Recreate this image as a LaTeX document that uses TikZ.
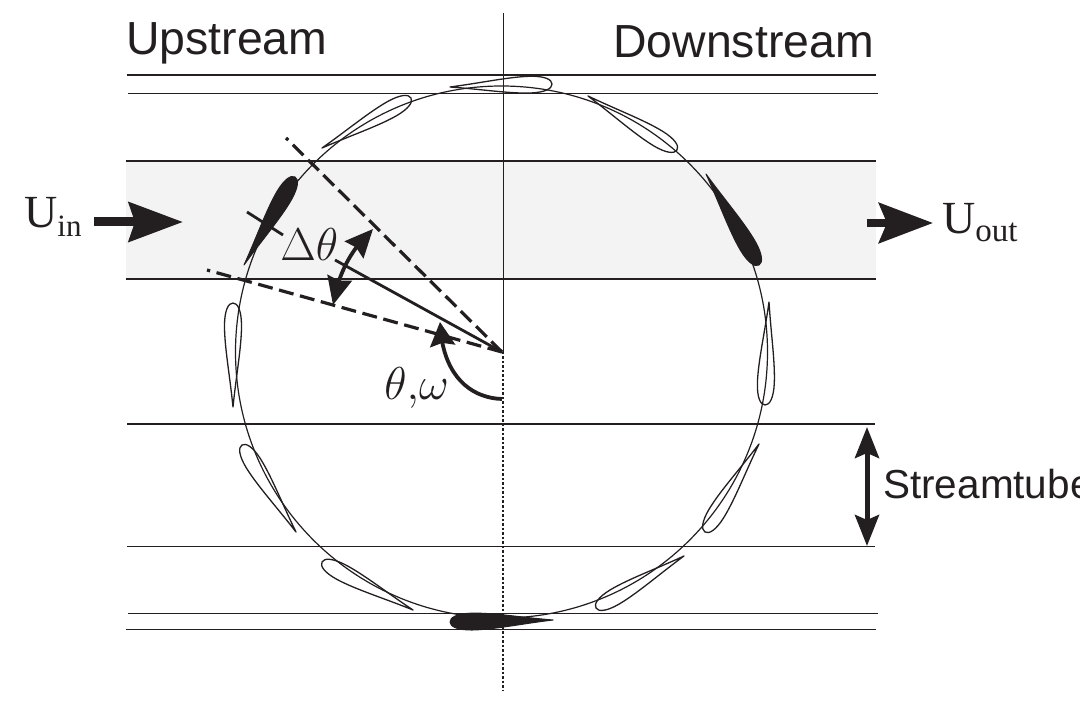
\documentclass[tikz,border=0pt]{standalone}
\usepackage{fontspec}
\setmainfont{Liberation Serif}
\newfontfamily\labelsans{Liberation Sans}
\usetikzlibrary{arrows.meta,calc,bending}
\definecolor{ink}{HTML}{231F20}
\definecolor{band}{HTML}{F3F3F3}
\tikzset{
  thickrule/.style={draw=ink,line width=2pt},
  thinrule/.style={draw=ink,line width=1pt},
  inarrow/.style={draw=ink,line width=9pt,-{Stealth[length=54pt,width=39pt,inset=6pt]}},
  outarrow/.style={draw=ink,line width=8pt,-{Stealth[length=54pt,width=40pt,inset=8pt]}},
  bigdouble/.style={draw=ink,line width=5pt,{Stealth[length=31pt,width=24pt,inset=5pt]}-{Stealth[length=31pt,width=24pt,inset=5pt]}},
  radial/.style={draw=ink,line width=2.8pt},
  sweepdouble/.style={draw=ink,line width=3.8pt,{Stealth[length=28pt,width=25pt,inset=3pt,flex=1]}-{Stealth[length=28pt,width=25pt,inset=3pt,flex=1]}},
  sweepsingle/.style={draw=ink,line width=3.8pt,-{Stealth[length=24pt,width=25pt,inset=3pt,flex=1]}},
  sanslabel/.style={inner sep=0pt,text=ink,font=\labelsans\fontsize{46.4}{46}\selectfont},
  seriflabel/.style={inner sep=0pt,text=ink,font=\fontsize{46}{46}\selectfont},
  mathlabel/.style={inner sep=0pt,text=ink,scale=1.85,font=\fontsize{24.88}{30}\selectfont},
  bladeoutline/.style={draw=ink,line width=1.3pt,line join=round},
  bladesolid/.style={draw=ink,fill=ink,line width=1pt,line join=round},
}
\newcommand{\airfoil}[5]{%
  \pgfmathsetmacro{\chordx}{#3-#1}%
  \pgfmathsetmacro{\chordy}{#4-#2}%
  \begin{scope}[shift={(#1,#2)},x={(\chordx pt,-\chordy pt)},y={(-\chordy pt,-\chordx pt)}]
    \path[#5] (0,0) .. controls (0.30,0.03) and (0.58,0.083) .. (0.79,0.082)
      .. controls (0.93,0.08) and (1.0,0.045) .. (1,0)
      .. controls (1.0,-0.045) and (0.93,-0.08) .. (0.79,-0.082)
      .. controls (0.58,-0.083) and (0.30,-0.03) .. (0,0) -- cycle;
  \end{scope}}
\begin{document}
\begin{tikzpicture}[x=1pt,y=-1pt]
\useasboundingbox (0,0) rectangle (1080,727);
% named points
\coordinate (hub) at (502,352);
\coordinate (dashA) at (286,138);
\coordinate (dashB) at (207,270);
\coordinate (radA) at (247,212);
\coordinate (radB) at (283,235);
\coordinate (radC) at (335,260);
% band
\fill[band] (126,161) rectangle (876,279);
% streamlines
\draw[thickrule] (127,75) -- (876,75);
\draw[thinrule] (128,93.5) -- (878,93.5);
\draw[thickrule] (126,161) -- (876,161);
\draw[thickrule] (126,279) -- (876,279);
\draw[thickrule] (127,424) -- (875,424);
\draw[thinrule] (127,546.5) -- (875,546.5);
\draw[thinrule] (128,613.5) -- (878,613.5);
\draw[thinrule] (126,629.5) -- (876,629.5);
% axis
\draw[draw=ink,line width=1pt] (503,13) -- (503,352);
\draw[draw=ink,line width=2pt,dash pattern=on 2.5pt off 2pt] (503,352) -- (503,690);
% rotor circle
\draw[draw=ink,line width=1.2pt] (501.5,352) circle[radius=266];
% blades
\airfoil{450}{87}{552}{84}{bladeoutline}
\airfoil{322}{148}{411}{98}{bladeoutline}
\airfoil{588}{96}{677}{150}{bladeoutline}
\airfoil{706}{174}{759}{265}{bladesolid}
\airfoil{769}{302}{765}{405}{bladeoutline}
\airfoil{759}{444}{705}{532}{bladeoutline}
\airfoil{684}{556}{596}{608}{bladeoutline}
\airfoil{553}{620}{450}{622}{bladesolid}
\airfoil{413}{610}{322}{562}{bladeoutline}
\airfoil{296}{532}{242}{445}{bladeoutline}
\airfoil{233}{407}{233}{303}{bladeoutline}
\airfoil{244}{265}{295}{177}{bladesolid}
% radial lines
\draw[radial,line width=3.2pt,dash pattern=on 15pt off 6.5pt] (hub) -- (dashA);
\draw[radial,line width=3.2pt,dash pattern=on 15pt off 6.64pt] (hub) -- (dashB);
\draw[radial] (radA) -- (radB);
\draw[radial] (radC) -- (hub);
% angle arrows
\coordinate (dA) at (373,229);
\coordinate (dB) at (333,305);
\draw[sweepdouble] (dA) .. controls (350,250) and (338,275) .. (dB);
\coordinate (tA) at (502,399);
\coordinate (tB) at (440,322);
\draw[sweepsingle] (tA) .. controls (470,398) and (442,375) .. (tB);
% flow arrows
\coordinate (uA) at (94,222);
\coordinate (uB) at (183,222);
\coordinate (vA) at (867,223);
\coordinate (vB) at (933,223);
\draw[inarrow] (uA) -- (uB);
\draw[outarrow] (vA) -- (vB);
\coordinate (sA) at (867,427);
\coordinate (sB) at (867,546);
\draw[bigdouble] (sA) -- (sB);
% labels
\node[sanslabel,anchor=base west] (up) at (126,55) {Upstream};
\node[sanslabel,anchor=base east] (down) at (874,58) {Downstream};
\node[sanslabel,anchor=base west,font=\labelsans\fontsize{40.5}{40}\selectfont] (tube) at (883,498) {Streamtube};
\node[seriflabel,anchor=base west] (uin) at (24,228) {U\raisebox{-9pt}{\fontsize{31}{31}\selectfont in}};
\node[seriflabel,anchor=base west] (uout) at (942,234) {U\raisebox{-8pt}{\fontsize{33}{33}\selectfont out}};
\node[mathlabel,anchor=base west] (dt) at (280,261) {$\Delta\theta$};
\node[mathlabel,anchor=base west] (tw) at (384,400) {$\theta{,}\omega$};
\end{tikzpicture}
\end{document}
